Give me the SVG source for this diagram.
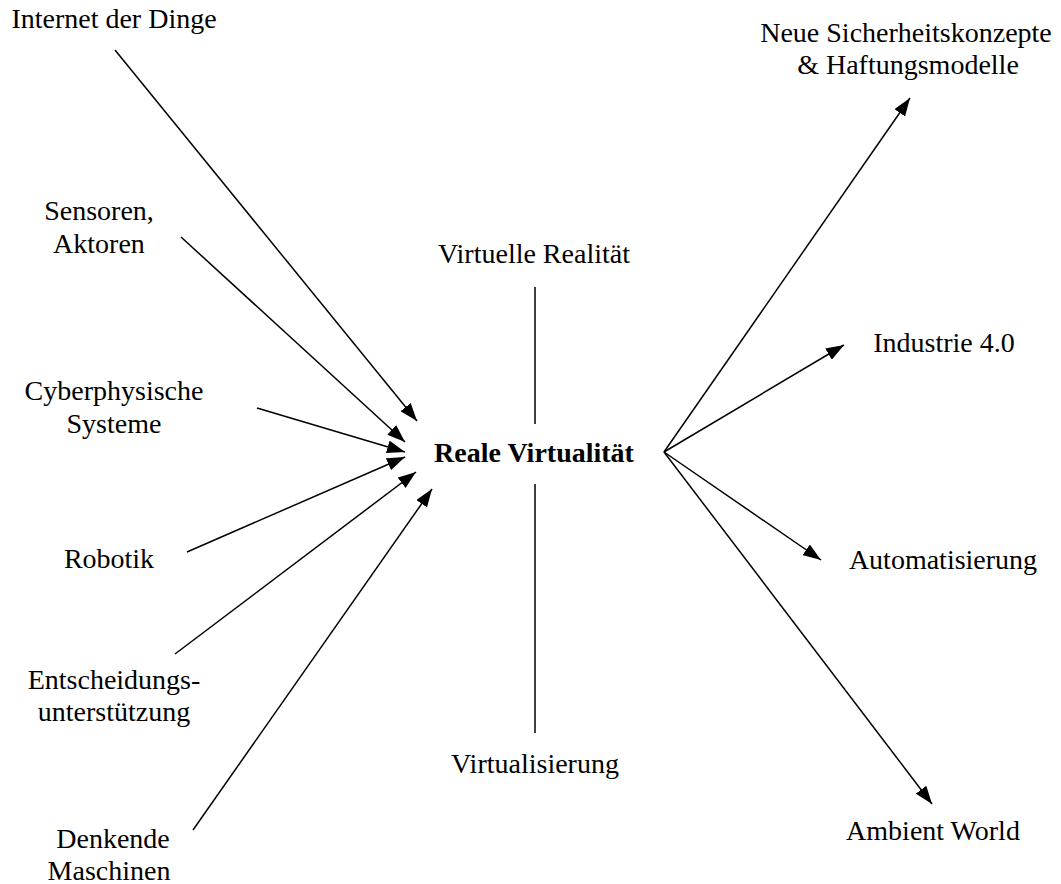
<svg xmlns="http://www.w3.org/2000/svg" width="1061" height="884" viewBox="0 0 1061 884">
<defs>
<style>
.lbl{font-family:"Liberation Serif","Times New Roman",serif;font-size:28px;fill:#000;text-anchor:middle}
.bold{font-weight:bold}
.con{stroke:#000;stroke-width:1.5;fill:none}
.arr{marker-end:url(#ah)}
</style>
<marker id="ah" markerUnits="userSpaceOnUse" markerWidth="18" markerHeight="13" refX="18" refY="6.5" orient="auto">
<path d="M0,0 L18,6.5 L0,13 z" fill="#000"/>
</marker>
</defs>
<rect width="1061" height="884" fill="#fff"/>
<g id="connectors">
<line class="con arr" x1="115" y1="50" x2="417" y2="421"/>
<line class="con arr" x1="181" y1="237" x2="405" y2="442"/>
<line class="con arr" x1="257" y1="408" x2="405" y2="452"/>
<line class="con arr" x1="187" y1="552" x2="405" y2="457"/>
<line class="con arr" x1="175" y1="654" x2="416" y2="472"/>
<line class="con arr" x1="193" y1="830" x2="432" y2="489"/>
<line class="con arr" x1="664" y1="452" x2="910" y2="98"/>
<line class="con arr" x1="664" y1="452" x2="844" y2="345"/>
<line class="con arr" x1="664" y1="452" x2="821" y2="560"/>
<line class="con arr" x1="664" y1="452" x2="932" y2="804"/>
<line class="con" x1="535" y1="287" x2="535" y2="424"/>
<line class="con" x1="535" y1="484" x2="535" y2="733"/>
</g>
<g id="center"><text class="lbl bold" x="534" y="462">Reale Virtualität</text></g>
<g id="internet"><text class="lbl" x="114" y="28">Internet der Dinge</text></g>
<g id="sensoren"><text class="lbl" x="99" y="220">Sensoren,</text><text class="lbl" x="99" y="253">Aktoren</text></g>
<g id="cps"><text class="lbl" x="114" y="400">Cyberphysische</text><text class="lbl" x="114" y="433">Systeme</text></g>
<g id="robotik"><text class="lbl" x="109" y="568">Robotik</text></g>
<g id="entscheidung"><text class="lbl" x="114" y="689">Entscheidungs-</text><text class="lbl" x="114" y="721">unterstützung</text></g>
<g id="denkende"><text class="lbl" x="113" y="848">Denkende</text><text class="lbl" x="109" y="880">Maschinen</text></g>
<g id="vr"><text class="lbl" x="534" y="263">Virtuelle Realität</text></g>
<g id="virtualisierung"><text class="lbl" x="535" y="773">Virtualisierung</text></g>
<g id="sicherheit"><text class="lbl" x="906" y="42">Neue Sicherheitskonzepte</text><text class="lbl" x="908" y="74">&amp; Haftungsmodelle</text></g>
<g id="industrie"><text class="lbl" x="944" y="352">Industrie 4.0</text></g>
<g id="automatisierung"><text class="lbl" x="943" y="569">Automatisierung</text></g>
<g id="ambient"><text class="lbl" x="933" y="840">Ambient World</text></g>
</svg>
